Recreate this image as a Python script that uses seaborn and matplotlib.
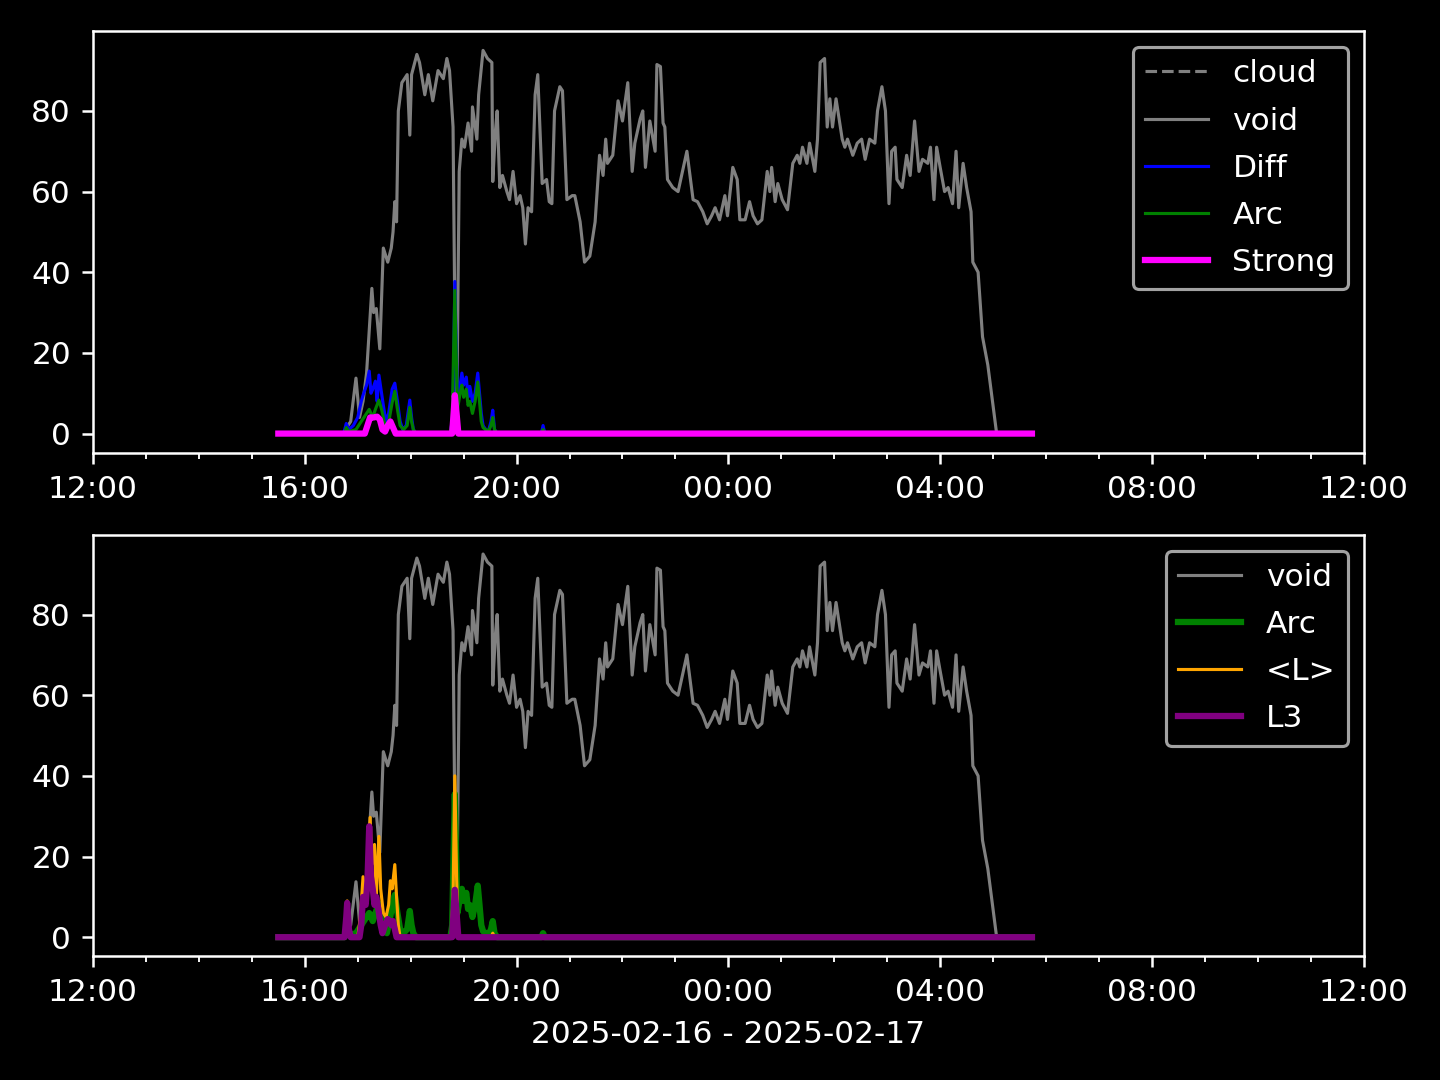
import pandas as pd
import matplotlib
matplotlib.use('Agg')
import matplotlib.pyplot as plt
import matplotlib.dates as mdates
import seaborn as sns

# time series (HH:MM, 16 Feb afternoon -> 17 Feb morning)
void_t = ['15:30', '16:44', '16:46', '16:52', '16:58', '17:02', '17:06', '17:10', '17:16', '17:18',
          '17:21', '17:25', '17:29', '17:34', '17:38', '17:40', '17:42', '17:44', '17:46', '17:50',
          '17:56', '17:59', '18:01', '18:07', '18:10', '18:16', '18:20', '18:25', '18:31', '18:37',
          '18:41', '18:44', '18:48', '18:50', '18:52', '18:55', '18:58', '19:01', '19:05', '19:09',
          '19:10', '19:15', '19:17', '19:22', '19:27', '19:32', '19:33', '19:36', '19:38', '19:41',
          '19:44', '19:49', '19:52', '19:56', '20:00', '20:04', '20:07', '20:10', '20:13', '20:17',
          '20:21', '20:24', '20:29', '20:34', '20:37', '20:40', '20:43', '20:49', '20:52', '20:57',
          '21:03', '21:06', '21:12', '21:17', '21:23', '21:29', '21:34', '21:38', '21:41', '21:43',
          '21:49', '21:55', '22:00', '22:06', '22:11', '22:14', '22:20', '22:23', '22:26', '22:31',
          '22:37', '22:39', '22:43', '22:46', '22:48', '22:51', '22:57', '23:03', '23:13', '23:20',
          '23:25', '23:31', '23:36', '23:41', '23:45', '23:50', '23:56', '23:59', '00:05', '00:10',
          '00:13', '00:19', '00:24', '00:28', '00:33', '00:38', '00:44', '00:47', '00:49', '00:53',
          '00:56', '01:01', '01:07', '01:13', '01:18', '01:21', '01:24', '01:29', '01:32', '01:38',
          '01:41', '01:44', '01:49', '01:52', '01:55', '01:58', '02:02', '02:09', '02:12', '02:15',
          '02:21', '02:26', '02:31', '02:35', '02:40', '02:46', '02:49', '02:54', '02:58', '03:02',
          '03:05', '03:09', '03:11', '03:17', '03:22', '03:26', '03:31', '03:36', '03:40', '03:46',
          '03:49', '03:53', '03:56', '04:00', '04:05', '04:09', '04:14', '04:18', '04:21', '04:26',
          '04:30', '04:35', '04:37', '04:43', '04:48', '04:54', '05:04', '05:44']
void_v = [0, 0, 1, 3, 13.75, 4, 8, 15, 36, 30,
          31, 21, 46, 42.5, 46, 50, 57.5, 52.5, 80, 87,
          89, 74, 89, 94, 92, 84, 89, 82.5, 90, 88,
          93, 90, 76, 30, 1, 65, 73, 71, 77, 70,
          81, 73, 84, 95, 93, 92, 62.5, 75, 80, 61,
          64, 60, 58, 65, 57, 59, 56, 47, 56, 55,
          84, 89, 62, 63, 57.5, 57, 80, 86, 85, 58,
          59, 59, 52.5, 42.5, 44, 52.5, 69, 64, 73, 67,
          69, 82.5, 77.5, 87, 65, 72, 78, 80, 66, 77.5,
          70, 91.5, 91, 77, 76, 63, 61, 60, 70, 58,
          57.5, 55, 52, 54, 56, 53, 59, 54, 66, 63,
          53, 53, 57.5, 54, 52, 53, 65, 60, 66, 57.5,
          62, 58, 55.5, 67, 69, 67, 71, 67, 72, 65,
          73, 92, 93, 76, 83, 76, 83, 73, 71, 73,
          69, 72, 73, 68, 73, 72, 80, 86, 80, 57,
          70, 71, 63, 61, 69, 64, 77.5, 65, 68, 67,
          71, 58, 71, 66, 60, 61, 57, 70, 56, 67,
          61, 55, 42.5, 40, 24, 17, 0, 0]

cloud_t = []
cloud_v = []

diff_t = ['15:30', '16:44', '16:47', '16:50', '16:55', '17:00', '17:04', '17:06', '17:10', '17:13',
          '17:15', '17:17', '17:20', '17:22', '17:24', '17:27', '17:29', '17:32', '17:35', '17:39',
          '17:42', '17:45', '17:48', '17:51', '17:55', '17:59', '18:01', '18:03', '18:06', '18:45',
          '18:48', '18:50', '18:53', '18:56', '18:58', '19:00', '19:03', '19:05', '19:07', '19:10',
          '19:13', '19:16', '19:18', '19:20', '19:22', '19:25', '19:28', '19:31', '19:33', '19:35',
          '19:38', '20:28', '20:30', '20:32', '05:44']
diff_v = [0, 0, 2.5, 1, 2, 4, 8, 9.5, 12, 15.5,
          10, 11, 13, 8, 14.5, 10, 7, 3, 5, 11,
          12.5, 8, 3, 1, 2, 8.3, 4, 1, 0, 0,
          5, 37.7, 8, 12, 15, 12, 14, 9, 11.7, 8,
          10, 15, 10, 5, 2, 1, 0.5, 3, 5.8, 1,
          0, 0, 2, 0, 0]

arc_t = ['15:30', '16:45', '16:47', '16:50', '16:58', '17:04', '17:10', '17:13', '17:17', '17:20',
         '17:24', '17:27', '17:30', '17:33', '17:36', '17:39', '17:42', '17:45', '17:48', '17:52',
         '17:56', '17:59', '18:01', '18:03', '18:06', '18:45', '18:47', '18:50', '18:53', '18:56',
         '18:58', '19:00', '19:03', '19:05', '19:07', '19:10', '19:13', '19:16', '19:18', '19:20',
         '19:22', '19:25', '19:28', '19:31', '19:33', '19:35', '19:38', '20:28', '20:30', '20:32',
         '05:44']
arc_v = [0, 0, 1.5, 0.5, 1, 3, 5, 6, 4, 6,
         8.3, 6, 3, 1, 4, 7.7, 10.5, 6, 2, 1,
         2, 6.5, 3, 1, 0, 0, 3, 35.5, 6, 10,
         12, 9, 11, 7, 8, 5, 8, 12.8, 8, 3,
         1.5, 1, 0.5, 2, 4, 1, 0, 0, 1, 0,
         0]

strong_t = ['15:30', '17:08', '17:11', '17:14', '17:18', '17:22', '17:25', '17:28', '17:31', '17:34',
            '17:37', '17:40', '17:43', '18:47', '18:49', '18:50', '18:52', '18:54', '05:44']
strong_v = [0, 0, 2, 4, 4, 4.2, 3.5, 1, 0.5, 2,
            3, 1.5, 0, 0, 6, 9.5, 5, 0, 0]

lmean_t = ['15:30', '16:45', '16:47', '16:48', '16:50', '16:52', '17:00', '17:03', '17:06', '17:09',
           '17:12', '17:14', '17:16', '17:19', '17:21', '17:24', '17:26', '17:29', '17:32', '17:35',
           '17:37', '17:39', '17:42', '17:44', '17:46', '17:48', '18:46', '18:48', '18:50', '18:52',
           '18:54', '19:31', '19:33', '19:35', '05:44']
lmean_v = [0, 0, 4, 9, 3, 0, 0, 5, 15, 8,
           20, 29.7, 18, 23, 10, 25, 12, 6, 5, 8,
           14, 12, 18, 10, 3, 0, 0, 10, 40, 15,
           0, 0, 1, 0, 0]

l3_t = ['15:30', '16:45', '16:47', '16:48', '16:50', '16:52', '17:02', '17:04', '17:06', '17:09',
        '17:11', '17:13', '17:15', '17:17', '17:19', '17:21', '17:24', '17:26', '17:28', '17:31',
        '17:34', '17:36', '17:38', '17:40', '17:42', '17:44', '18:47', '18:49', '18:50', '18:52',
        '18:54', '05:44']
l3_v = [0, 0, 5, 8.5, 2, 0, 0, 3, 10, 8,
        14, 27.5, 15, 12, 8, 10, 6, 3, 1, 3,
        4.5, 4, 3, 4, 2, 0, 0, 8, 11.75, 6,
        0, 0]


def to_dt(times):
    # afternoon/evening -> 16 Feb, early morning -> 17 Feb
    out = []
    for t in times:
        day = '2025-02-16' if int(t[:2]) >= 12 else '2025-02-17'
        out.append(pd.Timestamp(f'{day} {t}'))
    return out


plt.style.use('dark_background')
fig, axes = plt.subplots(2, 1, figsize=(6.4, 4.8), dpi=225)
ax1, ax2 = axes

# top panel
ax1.plot(to_dt(cloud_t), cloud_v, color='gray', ls='--', lw=1, label='cloud')
sns.lineplot(x=to_dt(void_t), y=void_v, ax=ax1, color='gray', lw=1, label='void')
sns.lineplot(x=to_dt(diff_t), y=diff_v, ax=ax1, color='blue', lw=1, label='Diff')
sns.lineplot(x=to_dt(arc_t), y=arc_v, ax=ax1, color='green', lw=1, label='Arc')
sns.lineplot(x=to_dt(strong_t), y=strong_v, ax=ax1, color='magenta', lw=2, label='Strong')

# bottom panel
sns.lineplot(x=to_dt(void_t), y=void_v, ax=ax2, color='gray', lw=1, label='void')
sns.lineplot(x=to_dt(arc_t), y=arc_v, ax=ax2, color='green', lw=2, label='Arc')
sns.lineplot(x=to_dt(lmean_t), y=lmean_v, ax=ax2, color='orange', lw=1, label='<L>')
sns.lineplot(x=to_dt(l3_t), y=l3_v, ax=ax2, color='purple', lw=2, label='L3')

for ax in axes:
    ax.set_xlim(pd.Timestamp('2025-02-16 12:00'), pd.Timestamp('2025-02-17 12:00'))
    ax.xaxis.set_major_locator(mdates.HourLocator(byhour=range(0, 24, 4)))
    ax.xaxis.set_minor_locator(mdates.HourLocator())
    ax.xaxis.set_major_formatter(mdates.DateFormatter('%H:%M'))
    ax.set_ylabel('')
    ax.legend(loc='upper right', labelspacing=0.58)

ax1.set_xlabel('')
ax2.set_xlabel('2025-02-16 - 2025-02-17')

plt.tight_layout(pad=1.0)
plt.savefig('out.png', dpi=225, facecolor='black')
